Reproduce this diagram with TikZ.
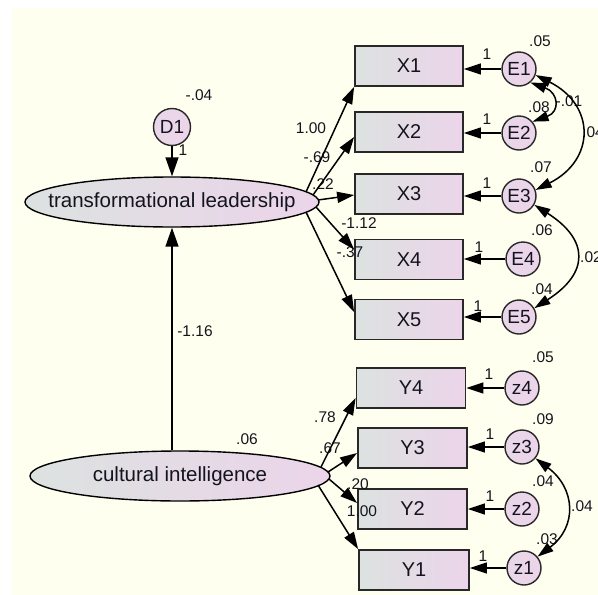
\documentclass[tikz,border=0pt]{standalone}
\usepackage{fontspec}
\setmainfont{Liberation Sans}
\usetikzlibrary{arrows.meta,calc,shapes.geometric}
\definecolor{bgc}{RGB}{255,255,240}
\definecolor{gl}{RGB}{220,226,224}
\definecolor{gr}{RGB}{236,212,234}
\definecolor{edgec}{RGB}{40,40,40}
\definecolor{txt}{RGB}{20,20,30}
\begin{document}
\begin{tikzpicture}[x=1pt,y=-1pt,
  obs/.style={draw=edgec, line width=1.8pt, left color=gl, right color=gr,
    minimum width=108pt, minimum height=40pt, inner sep=0pt,
    text=txt, font=\fontsize{20}{20}\selectfont},
  lat/.style={ellipse, draw=black, line width=1.4pt, left color=gl, right color=gr,
    minimum height=50pt, inner sep=0pt},
  latlbl/.style={text=txt, font=\fontsize{20.5}{20.5}\selectfont},
  err/.style={circle, draw=edgec, line width=1.4pt, left color=gr!85!gl, right color=gr,
    minimum size=34pt, inner sep=0pt, text=txt, font=\fontsize{19}{19}\selectfont},
  lbl/.style={text=txt, inner sep=0pt, font=\fontsize{15.5}{15.5}\selectfont},
  arr/.style={-{Triangle[length=17pt,width=11pt]}, line width=1.5pt},
  bigarr/.style={-{Triangle[length=19pt,width=13pt]}, line width=1.5pt},
  dbl/.style={{Triangle[length=16pt,width=10pt]}-{Triangle[length=16pt,width=10pt]}, line width=1.5pt}
]
\useasboundingbox (0,0) rectangle (598,595);
\clip (0,0) rectangle (598,595);
\fill[white] (0,0) rectangle (598,595);
\fill[bgc] (12,8) rectangle (598,595);

% latent variables
\node[lat, minimum width=294pt, label={[latlbl]center:transformational leadership}] (TL) at (172,202) {};
\node[lat, minimum width=300pt, label={[latlbl]center:cultural intelligence}] (CI) at (180,476) {};
\node[err, minimum size=37pt] (D1) at (172,127) {D1};

% observed variables
\node[obs] (X1) at (409,66) {X1};
\node[obs] (X2) at (409,132) {X2};
\node[obs] (X3) at (409,194) {X3};
\node[obs] (X4) at (409,259.5) {X4};
\node[obs] (X5) at (409,319.5) {X5};
\node[obs, minimum width=109pt] (Y4) at (411,388) {Y4};
\node[obs, minimum width=109pt] (Y3) at (412.5,448) {Y3};
\node[obs, minimum width=109pt] (Y2) at (412.5,509) {Y2};
\node[obs, minimum width=110pt] (Y1) at (414,570) {Y1};

% error terms
\node[err] (E1) at (519,69) {E1};
\node[err] (E2) at (519,133) {E2};
\node[err] (E3) at (519,196) {E3};
\node[err] (E4) at (523,259) {E4};
\node[err] (E5) at (519,317) {E5};
\node[err] (z4) at (522,388) {z4};
\node[err] (z3) at (522,447) {z3};
\node[err] (z2) at (522,509) {z2};
\node[err] (z1) at (524,568) {z1};

% labels
\node[lbl] (l01) at (199,95) {-.04};
\node[lbl] (l02) at (183,150) {1};
\node[lbl] (l03) at (195,331) {-1.16};
\node[lbl] (l04) at (247,439) {.06};
\node[lbl] (l05) at (311,128) {1.00};
\node[lbl] (l06) at (317,157) {-.69};
\node[lbl] (l07) at (323,184) {.22};
\node[lbl] (l08) at (359,223) {-1.12};
\node[lbl] (l09) at (350,252) {-.37};
\node[lbl] (l10) at (325,417) {.78};
\node[lbl] (l11) at (330,448) {.67};
\node[lbl] (l12) at (358,484) {.20};
\node[lbl] (l13) at (362,511) {1.00};
\node[lbl] (l14) at (540,41) {.05};
\node[lbl] (l15) at (487,54) {1};
\node[lbl] (l16) at (539,107) {.08};
\node[lbl] (l17) at (569,101) {-.01};
\node[lbl, anchor=west] (l18) at (582,132) {.04};
\node[lbl] (l19) at (487,119) {1};
\node[lbl] (l20) at (541,167) {.07};
\node[lbl] (l21) at (487,183) {1};
\node[lbl] (l22) at (542,230) {.06};
\node[lbl, anchor=west] (l23) at (580,257) {.02};
\node[lbl] (l24) at (479,247) {1};
\node[lbl] (l25) at (542,289) {.04};
\node[lbl] (l26) at (478,306) {1};
\node[lbl] (l27) at (543,357) {.05};
\node[lbl] (l28) at (489,374) {1};
\node[lbl] (l29) at (543,419) {.09};
\node[lbl] (l30) at (490,434) {1};
\node[lbl] (l31) at (543,481) {.04};
\node[lbl, anchor=west] (l32) at (571,506) {.04};
\node[lbl] (l33) at (490,496) {1};
\node[lbl] (l34) at (547,539) {.03};
\node[lbl] (l35) at (483,556) {1};

% structural paths
\draw[bigarr] (D1.south) -- (TL.north);
\draw[bigarr] (TL.south |- CI.north) -- (TL.south);

% loadings of transformational leadership
\coordinate (t1) at (306,192);
\coordinate (t2) at (313,195);
\coordinate (t3) at (318,200);
\coordinate (t4) at (316,207);
\coordinate (t5) at (306,212);
\draw[arr] (t1) -- (X1.south west);
\draw[arr] (t2) -- ([yshift=-5pt]X2.west);
\draw[arr] (t3) -- ([yshift=-1pt]X3.west);
\draw[arr] (t4) -- ([yshift=10pt]X4.west);
\draw[arr] (t5) -- ([yshift=7.5pt]X5.west);

% loadings of cultural intelligence
\coordinate (c1) at (321,467);
\coordinate (c2) at (328,472);
\coordinate (c3) at (329,479);
\coordinate (c4) at (318,485);
\draw[arr] (c1) -- ([yshift=-10pt]Y4.west);
\draw[arr] (c2) -- ([yshift=-5pt]Y3.west);
\draw[arr] (c3) -- ([yshift=6pt]Y2.west);
\draw[arr] (c4) -- (Y1.north west);

% error paths
\foreach \e/\v in {E1/X1,E2/X2,E3/X3,E4/X4,E5/X5,z4/Y4,z3/Y3,z2/Y2,z1/Y1}
  \draw[arr] (\e.west) -- (\e.west -| \v.east);

% covariances
\draw[dbl] (E1.-50) .. controls +(28,10) and +(28,-10) .. (E2.40);
\draw[dbl] (E1.-20) .. controls +(60,30) and +(60,-30) .. (E3.20);
\draw[dbl] (E3.-30) .. controls +(55,35) and +(55,-35) .. (E5.30);
\draw[dbl] (z3.-40) .. controls +(40,30) and +(40,-30) .. (z1.40);
\end{tikzpicture}
\end{document}
